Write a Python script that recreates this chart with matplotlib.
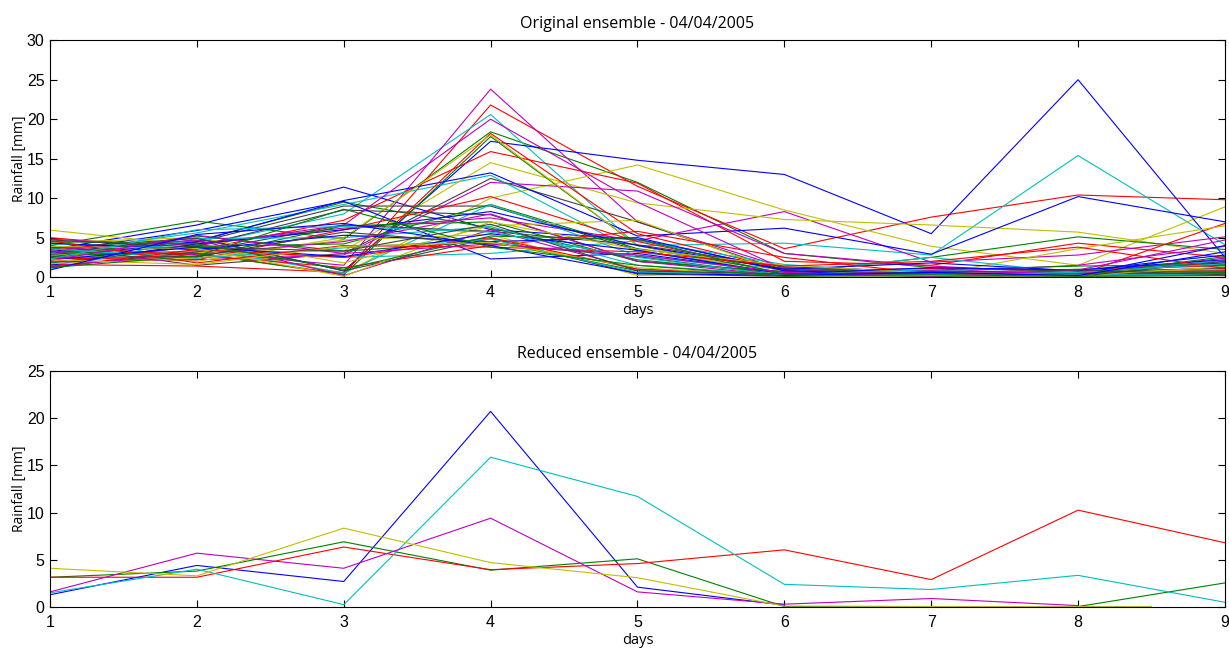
import numpy as np
import matplotlib
matplotlib.use("Agg")
import matplotlib.pyplot as plt

days = [1, 2, 3, 4, 5, 6, 7, 8, 9]

# original ensemble, grouped by the colour matlab gave them
blue_members = [
    [3.5, 6.6, 11.4, 6.0, 4.8, 1.0, 0.8, 0.5, 1.2],
    [3.0, 5.0, 0.8, 17.2, 14.8, 13.0, 5.5, 25.0, 2.5],
    [2.5, 4.5, 9.7, 13.2, 5.2, 6.2, 2.9, 10.2, 7.0],
    [3.2, 5.9, 9.6, 2.3, 3.0, 0.5, 0.3, 0.6, 1.8],
    [1.5, 4.2, 6.0, 8.3, 4.0, 1.0, 1.8, 0.8, 2.8],
    [4.3, 3.5, 5.3, 4.5, 5.0, 0.8, 0.5, 0.3, 4.0],
    [2.2, 3.8, 2.6, 5.5, 3.4, 0.4, 1.2, 0.9, 2.2],
    [0.9, 5.4, 6.8, 4.0, 0.5, 0.2, 0.6, 0.2, 3.2],
]
green_members = [
    [4.0, 7.1, 4.8, 18.4, 12.0, 3.0, 1.2, 0.8, 1.0],
    [3.6, 4.6, 9.5, 6.2, 2.2, 0.4, 0.2, 0.1, 0.4],
    [2.8, 3.0, 0.3, 17.8, 4.0, 0.5, 2.5, 5.1, 3.5],
    [1.8, 3.9, 4.2, 9.2, 3.6, 1.1, 0.4, 0.6, 0.8],
    [3.3, 2.5, 6.5, 7.0, 2.0, 0.7, 0.9, 1.4, 1.6],
    [2.5, 5.2, 3.3, 4.5, 0.8, 0.2, 0.1, 0.3, 0.6],
    [4.5, 4.2, 1.0, 5.2, 4.8, 0.3, 0.5, 0.2, 2.6],
    [1.2, 2.7, 8.6, 3.8, 1.5, 0.1, 0.3, 0.1, 0.2],
]
red_members = [
    [2.0, 3.0, 0.4, 21.8, 11.5, 3.6, 7.6, 10.4, 9.8],
    [5.0, 3.4, 7.2, 15.9, 11.9, 2.0, 1.5, 4.3, 2.5],
    [1.6, 1.4, 0.6, 18.2, 5.5, 1.0, 0.6, 0.3, 6.8],
    [2.4, 2.2, 6.0, 10.2, 4.5, 0.8, 1.1, 0.9, 1.5],
    [3.8, 2.8, 1.2, 4.0, 5.8, 2.5, 0.4, 0.3, 0.5],
    [1.2, 3.5, 2.5, 5.0, 1.0, 0.3, 0.2, 0.6, 0.8],
    [4.6, 1.8, 4.0, 3.8, 3.2, 1.4, 2.0, 3.8, 1.1],
]
cyan_members = [
    [1.8, 4.0, 8.0, 20.6, 4.0, 4.3, 2.8, 15.4, 4.1],
    [3.1, 5.6, 9.2, 12.9, 3.2, 0.9, 0.6, 0.8, 0.4],
    [2.9, 3.3, 2.5, 3.0, 4.6, 1.6, 0.4, 1.0, 1.4],
    [4.2, 3.7, 0.5, 9.2, 2.7, 0.6, 2.5, 0.5, 2.1],
    [1.0, 4.9, 5.0, 6.4, 1.5, 0.3, 0.2, 0.2, 0.9],
    [3.6, 2.4, 3.7, 4.8, 0.6, 0.5, 0.9, 0.3, 0.3],
    [2.3, 6.0, 6.4, 5.7, 2.5, 0.2, 0.3, 0.6, 1.7],
]
magenta_members = [
    [2.6, 3.2, 1.5, 23.8, 7.0, 1.2, 0.5, 0.8, 2.0],
    [3.0, 4.3, 6.2, 7.5, 4.6, 8.3, 1.9, 2.8, 5.1],
    [1.9, 2.2, 2.8, 12.0, 10.9, 3.0, 1.4, 0.5, 1.8],
    [4.8, 4.0, 6.6, 20.0, 9.5, 1.0, 0.6, 1.5, 3.9],
    [3.4, 4.7, 0.2, 6.0, 1.0, 0.4, 0.3, 0.2, 0.7],
    [1.4, 2.9, 4.5, 8.0, 2.0, 0.2, 0.8, 0.4, 2.4],
    [2.1, 5.3, 3.0, 4.2, 2.8, 0.6, 0.1, 0.9, 4.7],
]
yellow_members = [
    [5.95, 4.0, 0.5, 10.0, 14.2, 8.5, 3.9, 1.5, 8.9],
    [2.7, 3.1, 3.3, 14.5, 9.4, 7.3, 6.6, 5.7, 3.0],
    [3.0, 2.0, 5.0, 18.0, 4.0, 0.2, 0.3, 3.6, 6.5],
    [4.4, 5.0, 1.8, 6.5, 7.2, 0.5, 0.8, 0.5, 1.0],
    [1.7, 2.4, 4.7, 5.4, 0.2, 0.6, 0.4, 1.0, 0.3],
    [3.9, 3.6, 0.1, 7.0, 3.5, 1.5, 0.5, 0.2, 1.3],
    [2.2, 1.6, 3.9, 4.4, 1.2, 0.1, 0.2, 0.1, 0.2],
]
grey_members = [
    [4.0, 1.5, 3.0, 12.5, 7.0, 0.8, 0.3, 0.5, 1.1],
    [3.2, 4.4, 9.0, 9.0, 3.4, 0.3, 0.2, 0.3, 0.4],
    [2.9, 3.9, 8.5, 7.9, 2.0, 0.6, 0.1, 0.2, 1.0],
    [1.3, 3.2, 6.6, 5.8, 4.1, 1.3, 0.7, 0.4, 0.6],
    [3.7, 4.9, 0.8, 4.9, 0.4, 0.1, 0.4, 0.6, 0.2],
    [2.5, 2.6, 5.7, 4.2, 2.6, 0.2, 0.2, 0.1, 2.0],
    [4.7, 3.8, 3.3, 6.7, 0.8, 0.4, 0.6, 0.9, 0.3],
]

# reduced ensemble (6 members)
red_blue = [1.3, 4.4, 2.7, 20.7, 2.1, 0.2, np.nan, np.nan, np.nan]
red_green = [3.15, 3.8, 6.9, 3.9, 5.1, 0.05, 0.05, 0.05, 2.55]
red_red = [3.15, 3.15, 6.35, 3.95, 4.6, 6.05, 2.9, 10.25, 6.8]
red_cyan = [1.5, 4.0, 0.25, 15.85, 11.7, 2.4, 1.85, 3.35, 0.5]
red_magenta = [1.6, 5.7, 4.1, 9.4, 1.6, 0.3, 0.9, 0.15, np.nan]
yellow_days = [1, 2, 3, 4, 5, 6, 7, 8, 8.5]
red_yellow = [4.1, 3.3, 8.35, 4.7, 3.1, 0.1, 0.05, 0.05, 0.05]

# old matlab colour order
c_b = (0, 0, 1)
c_g = (0, 0.5, 0)
c_r = (1, 0, 0)
c_c = (0, 0.75, 0.75)
c_m = (0.75, 0, 0.75)
c_y = (0.75, 0.75, 0)
c_k = (0.25, 0.25, 0.25)

label_font = ['Open Sans', 'DejaVu Sans']
tick_font = ['Liberation Sans Narrow', 'Liberation Sans', 'DejaVu Sans']

fig = plt.figure(figsize=(12.29, 6.49), dpi=100)
ax1 = fig.add_axes([0.0407, 0.573, 0.956, 0.365])
ax2 = fig.add_axes([0.0407, 0.0647, 0.956, 0.364])

# interleave so that colours are drawn in cycle order like matlab does
groups = [(blue_members, c_b), (green_members, c_g), (red_members, c_r),
          (cyan_members, c_c), (magenta_members, c_m), (yellow_members, c_y),
          (grey_members, c_k)]
for i in range(8):
    for members, col in groups:
        if i < len(members):
            ax1.plot(days, members[i], color=col, lw=0.8)

ax2.plot(days, red_blue, color=c_b, lw=0.8)
ax2.plot(days, red_green, color=c_g, lw=0.8)
ax2.plot(days, red_red, color=c_r, lw=0.8)
ax2.plot(days, red_cyan, color=c_c, lw=0.8)
ax2.plot(days, red_magenta, color=c_m, lw=0.8)
ax2.plot(yellow_days, red_yellow, color=c_y, lw=0.8)

def style(ax, ymax, title):
    ax.set_xlim(1, 9)
    ax.set_ylim(0, ymax)
    ax.set_xticks(days)
    ax.set_yticks(np.arange(0, ymax + 1, 5))
    ax.tick_params(direction='in', top=True, right=True, length=5, width=0.8,
                   labelsize=11.5)
    ax.tick_params(axis='x', pad=6)
    ax.tick_params(axis='y', pad=4)
    for lab in ax.get_xticklabels() + ax.get_yticklabels():
        lab.set_family(tick_font)
    for s in ax.spines.values():
        s.set_linewidth(0.8)
    ax.set_title(title, family=label_font, fontsize=11.5, pad=9)
    ax.set_xlabel('days', family=label_font, fontsize=10.5, labelpad=2)
    ax.set_ylabel('Rainfall [mm]', family=label_font, fontsize=10, labelpad=0)

style(ax1, 30, 'Original ensemble - 04/04/2005')
style(ax2, 25, 'Reduced ensemble - 04/04/2005')

fig.savefig('out.png', dpi=100)
